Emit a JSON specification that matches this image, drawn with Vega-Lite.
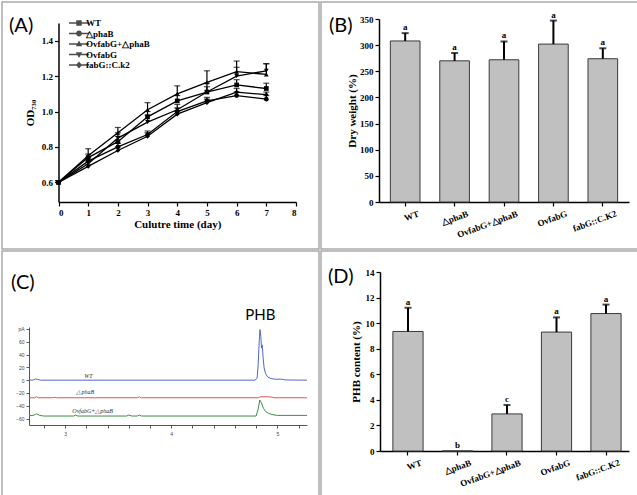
{
  "$schema": "https://vega.github.io/schema/vega-lite/v6.json",
  "padding": {"left": 1, "top": 1, "right": 0, "bottom": 0},
  "background": "white",
  "config": {
    "view": {"stroke": "#ababab", "strokeWidth": 1.5},
    "axis": {"grid": false, "labelOverlap": false, "labelBound": false, "tickCount": 40, "labelFont": "Liberation Serif", "labelFontWeight": "bold", "labelFontSize": 9, "labelColor": "#000", "titleFont": "Liberation Serif", "titleFontWeight": "bold", "titleFontSize": 11, "titleColor": "#000", "domainColor": "#000", "tickColor": "#000", "domainWidth": 1.5, "tickWidth": 1.2, "tickSize": 4},
    "title": {"font": "Lato", "fontSize": 20, "fontWeight": "normal", "anchor": "start", "color": "#000", "frame": "group"}
  },
  "datasets": {
    "growth": [
      {"s": "WT", "day": 0, "od": 0.6, "hi": 0.61},
      {"s": "WT", "day": 1, "od": 0.74, "hi": 0.76},
      {"s": "WT", "day": 2, "od": 0.83, "hi": 0.86},
      {"s": "WT", "day": 3, "od": 0.97, "hi": 1.0},
      {"s": "WT", "day": 4, "od": 1.06, "hi": 1.09},
      {"s": "WT", "day": 5, "od": 1.11, "hi": 1.14},
      {"s": "WT", "day": 6, "od": 1.15, "hi": 1.18},
      {"s": "WT", "day": 7, "od": 1.13, "hi": 1.16},
      {"s": "△phaB", "day": 0, "od": 0.6, "hi": 0.61},
      {"s": "△phaB", "day": 1, "od": 0.72, "hi": 0.74},
      {"s": "△phaB", "day": 2, "od": 0.8, "hi": 0.82},
      {"s": "△phaB", "day": 3, "od": 0.87, "hi": 0.89},
      {"s": "△phaB", "day": 4, "od": 1.0, "hi": 1.02},
      {"s": "△phaB", "day": 5, "od": 1.06, "hi": 1.08},
      {"s": "△phaB", "day": 6, "od": 1.09, "hi": 1.11},
      {"s": "△phaB", "day": 7, "od": 1.07, "hi": 1.09},
      {"s": "OvfabG+△phaB", "day": 0, "od": 0.6, "hi": 0.61},
      {"s": "OvfabG+△phaB", "day": 1, "od": 0.75, "hi": 0.79},
      {"s": "OvfabG+△phaB", "day": 2, "od": 0.88, "hi": 0.91},
      {"s": "OvfabG+△phaB", "day": 3, "od": 1.01, "hi": 1.05},
      {"s": "OvfabG+△phaB", "day": 4, "od": 1.1, "hi": 1.145},
      {"s": "OvfabG+△phaB", "day": 5, "od": 1.165, "hi": 1.23},
      {"s": "OvfabG+△phaB", "day": 6, "od": 1.225, "hi": 1.285},
      {"s": "OvfabG+△phaB", "day": 7, "od": 1.21, "hi": 1.27},
      {"s": "OvfabG", "day": 0, "od": 0.6, "hi": 0.61},
      {"s": "OvfabG", "day": 1, "od": 0.705, "hi": 0.72},
      {"s": "OvfabG", "day": 2, "od": 0.85, "hi": 0.88},
      {"s": "OvfabG", "day": 3, "od": 0.94, "hi": 0.98},
      {"s": "OvfabG", "day": 4, "od": 1.01, "hi": 1.04},
      {"s": "OvfabG", "day": 5, "od": 1.11, "hi": 1.16},
      {"s": "OvfabG", "day": 6, "od": 1.2, "hi": 1.25},
      {"s": "OvfabG", "day": 7, "od": 1.23, "hi": 1.27},
      {"s": "fabG::C.k2", "day": 0, "od": 0.6, "hi": 0.61},
      {"s": "fabG::C.k2", "day": 1, "od": 0.69, "hi": 0.7},
      {"s": "fabG::C.k2", "day": 2, "od": 0.78, "hi": 0.8},
      {"s": "fabG::C.k2", "day": 3, "od": 0.86, "hi": 0.88},
      {"s": "fabG::C.k2", "day": 4, "od": 0.985, "hi": 1.0},
      {"s": "fabG::C.k2", "day": 5, "od": 1.05, "hi": 1.07},
      {"s": "fabG::C.k2", "day": 6, "od": 1.11, "hi": 1.13},
      {"s": "fabG::C.k2", "day": 7, "od": 1.095, "hi": 1.11}
    ],
    "dry": [
      {"s": "WT", "v": 308, "hi": 323, "lab": "a"},
      {"s": "△phaB", "v": 270, "hi": 285, "lab": "a"},
      {"s": "OvfabG+△phaB", "v": 272, "hi": 307, "lab": "a"},
      {"s": "OvfabG", "v": 302, "hi": 347, "lab": "a"},
      {"s": "fabG::C.K2", "v": 274, "hi": 294, "lab": "a"}
    ],
    "phbc": [
      {"s": "WT", "v": 9.35, "hi": 11.2, "lab": "a"},
      {"s": "△phaB", "v": 0, "hi": 0, "lab": "b"},
      {"s": "OvfabG+△phaB", "v": 2.9, "hi": 3.6, "lab": "c"},
      {"s": "OvfabG", "v": 9.3, "hi": 10.45, "lab": "a"},
      {"s": "fabG::C.K2", "v": 10.75, "hi": 11.45, "lab": "a"}
    ],
    "gc": [
      {"trace": "WT", "rt": 2.66, "pA": 0},
      {"trace": "WT", "rt": 2.7, "pA": 0.3},
      {"trace": "WT", "rt": 2.72, "pA": 1.8},
      {"trace": "WT", "rt": 2.74, "pA": 1.2},
      {"trace": "WT", "rt": 2.77, "pA": 0},
      {"trace": "WT", "rt": 4.79, "pA": 0},
      {"trace": "WT", "rt": 4.81, "pA": 3},
      {"trace": "WT", "rt": 4.82, "pA": 25},
      {"trace": "WT", "rt": 4.83, "pA": 62},
      {"trace": "WT", "rt": 4.837, "pA": 79},
      {"trace": "WT", "rt": 4.845, "pA": 68},
      {"trace": "WT", "rt": 4.851, "pA": 50},
      {"trace": "WT", "rt": 4.858, "pA": 55},
      {"trace": "WT", "rt": 4.866, "pA": 36},
      {"trace": "WT", "rt": 4.876, "pA": 19},
      {"trace": "WT", "rt": 4.89, "pA": 10},
      {"trace": "WT", "rt": 4.91, "pA": 5},
      {"trace": "WT", "rt": 4.94, "pA": 2.5},
      {"trace": "WT", "rt": 4.98, "pA": 1.5},
      {"trace": "WT", "rt": 5.04, "pA": 1.5},
      {"trace": "WT", "rt": 5.08, "pA": 0.3},
      {"trace": "WT", "rt": 5.28, "pA": 0},
      {"trace": "△phaB", "rt": 2.66, "pA": -27.5},
      {"trace": "△phaB", "rt": 2.71, "pA": -27.5},
      {"trace": "△phaB", "rt": 2.73, "pA": -26},
      {"trace": "△phaB", "rt": 2.75, "pA": -27.5},
      {"trace": "△phaB", "rt": 2.88, "pA": -27.5},
      {"trace": "△phaB", "rt": 2.9, "pA": -26.8},
      {"trace": "△phaB", "rt": 2.92, "pA": -27.5},
      {"trace": "△phaB", "rt": 3.68, "pA": -27.5},
      {"trace": "△phaB", "rt": 3.7, "pA": -26},
      {"trace": "△phaB", "rt": 3.72, "pA": -27.5},
      {"trace": "△phaB", "rt": 4.82, "pA": -27.5},
      {"trace": "△phaB", "rt": 4.84, "pA": -26},
      {"trace": "△phaB", "rt": 4.9, "pA": -25.8},
      {"trace": "△phaB", "rt": 4.95, "pA": -26.5},
      {"trace": "△phaB", "rt": 4.97, "pA": -27.5},
      {"trace": "△phaB", "rt": 5.28, "pA": -27.5},
      {"trace": "OvfabG+△phaB", "rt": 2.66, "pA": -55.5},
      {"trace": "OvfabG+△phaB", "rt": 2.7, "pA": -55},
      {"trace": "OvfabG+△phaB", "rt": 2.73, "pA": -52.5},
      {"trace": "OvfabG+△phaB", "rt": 2.76, "pA": -55},
      {"trace": "OvfabG+△phaB", "rt": 2.8, "pA": -56},
      {"trace": "OvfabG+△phaB", "rt": 3.08, "pA": -56},
      {"trace": "OvfabG+△phaB", "rt": 3.1, "pA": -54.5},
      {"trace": "OvfabG+△phaB", "rt": 3.12, "pA": -56},
      {"trace": "OvfabG+△phaB", "rt": 3.58, "pA": -56},
      {"trace": "OvfabG+△phaB", "rt": 3.6, "pA": -54.5},
      {"trace": "OvfabG+△phaB", "rt": 3.63, "pA": -56},
      {"trace": "OvfabG+△phaB", "rt": 3.68, "pA": -56},
      {"trace": "OvfabG+△phaB", "rt": 3.7, "pA": -54.5},
      {"trace": "OvfabG+△phaB", "rt": 3.72, "pA": -56},
      {"trace": "OvfabG+△phaB", "rt": 4.8, "pA": -56},
      {"trace": "OvfabG+△phaB", "rt": 4.82, "pA": -45},
      {"trace": "OvfabG+△phaB", "rt": 4.835, "pA": -31},
      {"trace": "OvfabG+△phaB", "rt": 4.85, "pA": -35},
      {"trace": "OvfabG+△phaB", "rt": 4.87, "pA": -44},
      {"trace": "OvfabG+△phaB", "rt": 4.89, "pA": -49},
      {"trace": "OvfabG+△phaB", "rt": 4.92, "pA": -52},
      {"trace": "OvfabG+△phaB", "rt": 4.96, "pA": -54},
      {"trace": "OvfabG+△phaB", "rt": 5.0, "pA": -55},
      {"trace": "OvfabG+△phaB", "rt": 5.28, "pA": -55}
    ],
    "gclab": [
      {"label": "WT", "rt": 3.22, "pA": 6.5},
      {"label": "△phaB", "rt": 3.19, "pA": -19},
      {"label": "OvfabG+△phaB", "rt": 3.26, "pA": -48}
    ],
    "peak": [
      {"label": "PHB", "rt": 4.84, "pA": 102}
    ]
  },
  "vconcat": [
    {
      "hconcat": [
        {
          "width": 317, "height": 247,
          "title": {"text": "(A)", "offset": -34, "dx": 7},
          "layer": [
            {
              "data": {"name": "growth"},
              "mark": {"type": "line", "color": "#000", "strokeWidth": 1.3},
              "encoding": {
                "x": {"field": "day", "type": "quantitative", "scale": {"domain": [0, 8], "range": [56.5, 294], "nice": false, "zero": false},
                  "axis": {"values": [0, 1, 2, 3, 4, 5, 6, 7, 8], "tickCount": 40, "format": "d", "offset": -47, "title": "Culutre time (day)", "labelPadding": 2, "titlePadding": 1, "labelOverlap": false}},
                "y": {"field": "od", "type": "quantitative", "scale": {"domain": [0.489, 1.5], "range": [200, 21], "nice": false, "zero": false},
                  "axis": {"values": [0.6, 0.8, 1.0, 1.2, 1.4], "tickCount": 40, "format": ".1f", "offset": -56.5, "title": "OD₇₃₀", "titlePadding": 6, "labelOverlap": false}},
                "detail": {"field": "s", "type": "nominal"}
              }
            },
            {
              "data": {"name": "growth"},
              "mark": {"type": "rule", "color": "#000", "strokeWidth": 1.2},
              "encoding": {
                "x": {"field": "day", "type": "quantitative"},
                "y": {"field": "od", "type": "quantitative"},
                "y2": {"field": "hi"}
              }
            },
            {
              "data": {"name": "growth"},
              "mark": {"type": "tick", "color": "#000", "thickness": 1.2, "size": 6, "orient": "horizontal"},
              "encoding": {
                "x": {"field": "day", "type": "quantitative"},
                "y": {"field": "hi", "type": "quantitative"}
              }
            },
            {
              "data": {"name": "growth"},
              "mark": {"type": "point", "filled": true, "color": "#000", "size": 22, "opacity": 1},
              "encoding": {
                "x": {"field": "day", "type": "quantitative"},
                "y": {"field": "od", "type": "quantitative"},
                "shape": {"field": "s", "type": "nominal", "scale": {"domain": ["WT", "△phaB", "OvfabG+△phaB", "OvfabG", "fabG::C.k2"], "range": ["square", "circle", "triangle-up", "triangle-down", "diamond"]}, "legend": null}
              }
            },
            {
              "data": {"name": "growth"},
              "transform": [{"filter": "false"}],
              "mark": {"type": "point", "filled": true, "color": "#000", "size": 100},
              "encoding": {
                "x": {"field": "day", "type": "quantitative"},
                "y": {"field": "od", "type": "quantitative"},
                "shape": {"field": "s", "type": "nominal",
                  "scale": {"domain": ["WT", "△phaB", "OvfabG+△phaB", "OvfabG", "fabG::C.k2"],
                    "range": [
                      "M-2,-0.14H2V0.14H-2ZM-0.55,-0.55H0.55V0.55H-0.55Z",
                      "M-2,-0.14H2V0.14H-2ZM0.58,0A0.58,0.58,0,1,1,-0.58,0A0.58,0.58,0,1,1,0.58,0Z",
                      "M-2,-0.14H2V0.14H-2ZM0,-0.68L0.64,0.44H-0.64Z",
                      "M-2,-0.14H2V0.14H-2ZM0,0.68L-0.64,-0.44H0.64Z",
                      "M-2,-0.14H2V0.14H-2ZM0,-0.7L0.6,0L0,0.7L-0.6,0Z"]},
                  "legend": {"orient": "none", "legendX": 72, "legendY": 16, "title": null, "symbolSize": 100, "symbolStrokeWidth": 0, "symbolFillColor": "#000", "labelFont": "Liberation Serif", "labelFontWeight": "bold", "labelFontSize": 9, "labelColor": "#000", "labelOffset": 2, "rowPadding": 0.5, "padding": 0}}
              }
            }
          ],
          "resolve": {"scale": {"shape": "independent"}, "legend": {"shape": "independent"}}
        },
        {
          "width": 318, "height": 247,
          "title": {"text": "(B)", "offset": -34, "dx": 8},
          "data": {"name": "dry"},
          "encoding": {
            "x": {"field": "s", "type": "nominal", "sort": null,
              "scale": {"domain": ["WT", "△phaB", "OvfabG+△phaB", "OvfabG", "fabG::C.K2"], "range": [58, 308], "paddingInner": 0.4, "paddingOuter": 0.23},
              "axis": {"title": null, "offset": -47, "labelAngle": -20, "labelAlign": "right", "labelBaseline": "top", "labelOffset": 12, "labelPadding": 3, "labelOverlap": false}}
          },
          "layer": [
            {
              "mark": {"type": "bar", "fill": "#c0c0c0", "stroke": "#3a3a3a", "strokeWidth": 1},
              "encoding": {
                "y": {"field": "v", "type": "quantitative", "scale": {"domain": [0, 350], "range": [200, 17], "nice": false},
                  "axis": {"values": [0, 50, 100, 150, 200, 250, 300, 350], "tickCount": 40, "format": "d", "offset": -58, "title": "Dry weight (%)", "titlePadding": 2, "labelOverlap": false}}
              }
            },
            {
              "mark": {"type": "rule", "color": "#000", "strokeWidth": 2},
              "encoding": {"y": {"field": "v", "type": "quantitative"}, "y2": {"field": "hi"}}
            },
            {
              "mark": {"type": "tick", "color": "#000", "thickness": 2, "size": 7, "orient": "horizontal"},
              "encoding": {"y": {"field": "hi", "type": "quantitative"}}
            },
            {
              "mark": {"type": "text", "baseline": "bottom", "dy": -1, "font": "Liberation Serif", "fontWeight": "bold", "fontSize": 9, "color": "#000"},
              "encoding": {"y": {"field": "hi", "type": "quantitative"}, "text": {"field": "lab"}}
            }
          ]
        }
      ],
      "spacing": 0
    },
    {
      "hconcat": [
        {
          "width": 317, "height": 247,
          "title": {"text": "(C)", "offset": -42, "dx": 9},
          "layer": [
            {
              "data": {"name": "gc"},
              "mark": {"type": "line", "strokeWidth": 1},
              "encoding": {
                "x": {"field": "rt", "type": "quantitative", "scale": {"domain": [2.66, 5.28], "range": [27, 305], "nice": false, "zero": false},
                  "axis": {"offset": -73, "values": [2.8, 3, 3.2, 3.4, 3.6, 3.8, 4, 4.2, 4.4, 4.6, 4.8, 5, 5.2], "tickCount": 40, "labelExpr": "abs(datum.value - round(datum.value)) < 0.01 ? format(datum.value, 'd') : ''", "labelOverlap": false, "labelBound": false, "title": null, "labelFont": "Liberation Sans", "labelFontWeight": "normal", "labelFontSize": 5, "labelColor": "#444", "domainColor": "#555", "tickColor": "#555", "domainWidth": 1, "tickWidth": 1, "tickSize": 3, "labelPadding": 3}},
                "y": {"field": "pA", "type": "quantitative", "scale": {"domain": [-70, 83], "range": [174, 76], "nice": false, "zero": false},
                  "axis": {"offset": -27, "values": [-60, -40, -20, 0, 20, 40, 60, 80], "tickCount": 40, "format": "d", "labelExpr": "datum.value == 80 ? 'pA' : datum.label", "labelOverlap": false, "labelBound": false, "title": null, "labelFont": "Liberation Sans", "labelFontWeight": "normal", "labelFontSize": 5, "labelColor": "#444", "domainColor": "#555", "tickColor": "#555", "domainWidth": 1, "tickWidth": 1, "tickSize": 3, "labelPadding": 2}},
                "color": {"field": "trace", "type": "nominal", "scale": {"domain": ["WT", "△phaB", "OvfabG+△phaB"], "range": ["#5566cc", "#e05555", "#3d8f48"]}, "legend": null}
              }
            },
            {
              "data": {"name": "gclab"},
              "mark": {"type": "text", "font": "Liberation Serif", "fontStyle": "italic", "fontSize": 6, "color": "#333"},
              "encoding": {
                "x": {"field": "rt", "type": "quantitative"},
                "y": {"field": "pA", "type": "quantitative"},
                "text": {"field": "label"}
              }
            },
            {
              "data": {"name": "peak"},
              "mark": {"type": "text", "font": "Lato", "fontSize": 15, "color": "#000"},
              "encoding": {
                "x": {"field": "rt", "type": "quantitative"},
                "y": {"field": "pA", "type": "quantitative"},
                "text": {"field": "label"}
              }
            }
          ]
        },
        {
          "width": 318, "height": 247,
          "title": {"text": "(D)", "offset": -36, "dx": 7},
          "data": {"name": "phbc"},
          "encoding": {
            "x": {"field": "s", "type": "nominal", "sort": null,
              "scale": {"domain": ["WT", "△phaB", "OvfabG+△phaB", "OvfabG", "fabG::C.K2"], "range": [59, 308], "paddingInner": 0.39, "paddingOuter": 0.21, "align": 0.62},
              "axis": {"title": null, "offset": -47, "labelAngle": -20, "labelAlign": "right", "labelBaseline": "top", "labelOffset": 12, "labelPadding": 3, "labelOverlap": false}}
          },
          "layer": [
            {
              "mark": {"type": "bar", "fill": "#c0c0c0", "stroke": "#3a3a3a", "strokeWidth": 1},
              "encoding": {
                "y": {"field": "v", "type": "quantitative", "scale": {"domain": [0, 14], "range": [200, 21], "nice": false},
                  "axis": {"values": [0, 2, 4, 6, 8, 10, 12, 14], "tickCount": 40, "format": "d", "offset": -59, "title": "PHB content (%)", "titlePadding": 4, "labelOverlap": false, "labelBound": false}}
              }
            },
            {
              "transform": [{"filter": "datum.hi > datum.v"}],
              "mark": {"type": "rule", "color": "#000", "strokeWidth": 2},
              "encoding": {"y": {"field": "v", "type": "quantitative"}, "y2": {"field": "hi"}}
            },
            {
              "transform": [{"filter": "datum.hi > datum.v"}],
              "mark": {"type": "tick", "color": "#000", "thickness": 2, "size": 7, "orient": "horizontal"},
              "encoding": {"y": {"field": "hi", "type": "quantitative"}}
            },
            {
              "mark": {"type": "text", "baseline": "bottom", "dy": -1, "font": "Liberation Serif", "fontWeight": "bold", "fontSize": 9, "color": "#000"},
              "encoding": {"y": {"field": "hi", "type": "quantitative"}, "text": {"field": "lab"}}
            }
          ]
        }
      ],
      "spacing": 0
    }
  ],
  "spacing": 0
}
